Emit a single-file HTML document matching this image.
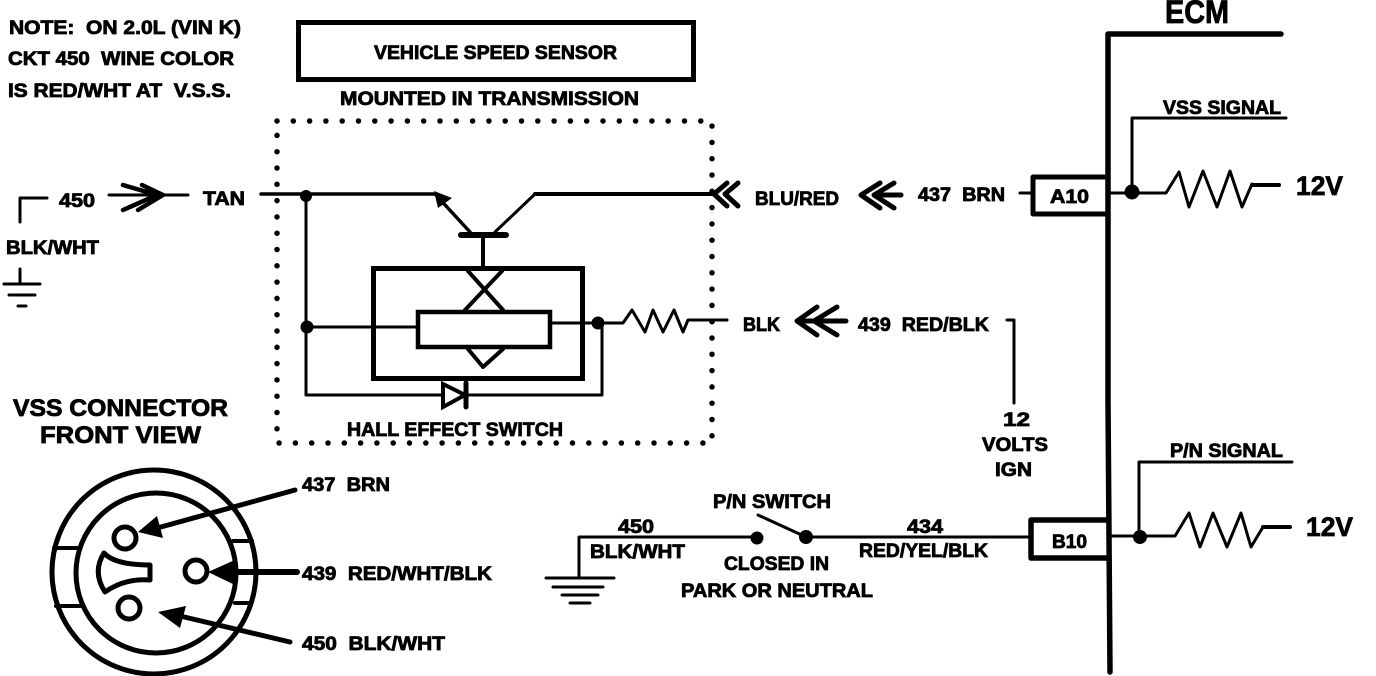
<!DOCTYPE html>
<html><head><meta charset="utf-8"><style>
html,body{margin:0;padding:0;background:#fff;width:1376px;height:676px;overflow:hidden}
svg{display:block}
text{font-family:"Liberation Sans",sans-serif;font-weight:bold;fill:#000;stroke:#000;stroke-width:.8;white-space:pre}
.l{fill:none;stroke:#000;stroke-linejoin:round;stroke-linecap:round}
</style></head><body>
<svg width="1376" height="676" viewBox="0 0 1376 676" xmlns="http://www.w3.org/2000/svg">
<rect width="1376" height="676" fill="#fff"/>

<!-- notes -->
<g font-size="19">
<text x="9" y="34" textLength="232" lengthAdjust="spacingAndGlyphs">NOTE:  ON 2.0L (VIN K)</text>
<text x="8" y="65" textLength="226" lengthAdjust="spacingAndGlyphs">CKT 450  WINE COLOR</text>
<text x="8" y="97" textLength="223" lengthAdjust="spacingAndGlyphs">IS RED/WHT AT  V.S.S.</text>
<text x="374" y="59" textLength="243" lengthAdjust="spacingAndGlyphs">VEHICLE SPEED SENSOR</text>
<text x="340" y="105" textLength="299" lengthAdjust="spacingAndGlyphs">MOUNTED IN TRANSMISSION</text>
</g>
<rect x="298.500" y="22.500" width="395" height="57" fill="none" stroke="#000" stroke-width="5"/>

<!-- dotted box -->
<path class="l" d="M277 121H712V443H277Z" stroke-width="5.500" stroke-dasharray="0 16.300"/>

<!-- left wire -->
<path class="l" stroke-width="3" d="M20 222V198H47"/>
<path class="l" stroke-width="3" d="M109 195H188"/>
<path class="l" stroke-width="4.500" d="M123 185L157 195L123 210M142 185L163 195L138 210"/>
<g font-size="19">
<text x="59" y="207" textLength="36" lengthAdjust="spacingAndGlyphs">450</text>
<text x="203" y="205" textLength="42" lengthAdjust="spacingAndGlyphs">TAN</text>
<text x="6" y="254" textLength="93" lengthAdjust="spacingAndGlyphs">BLK/WHT</text>
</g>
<path class="l" stroke-width="3" d="M20 269V284M4 284H40M9 295H35M18 306H26"/>

<!-- sensor internals -->
<path class="l" stroke-width="3.500" d="M261 194H435L470 232"/>
<path d="M434 191L452 198L438 208Z" fill="#000"/>
<path class="l" stroke-width="3" d="M495 232L535 194"/>
<path class="l" stroke-width="4" d="M535 194H714"/>
<path class="l" stroke-width="6" d="M461 235H506"/>
<path class="l" stroke-width="4" d="M483 235V267"/>
<rect x="373.500" y="268.500" width="209" height="110" fill="none" stroke="#000" stroke-width="5"/>
<path class="l" stroke-width="4" d="M468 271L503 310M502 271L465 310M468 349L483 367L503 349"/>
<rect x="418" y="312" width="132" height="35" fill="#fff" stroke="#000" stroke-width="4.500"/>
<path class="l" stroke-width="3" d="M306 196V395H442M465 395H602V323M307 327H416M551 323H623L632 310L645 332L653 310L663 332L674 310L683 332L688 320H727"/>
<circle cx="306" cy="196" r="6"/><circle cx="307" cy="327" r="6.500"/><circle cx="598" cy="323" r="6.500"/>
<path d="M443 384L443 407L465 395Z" fill="#fff" stroke="#000" stroke-width="4"/>
<path class="l" stroke-width="5" d="M466 383V407" stroke-linecap="butt"/>
<text x="347" y="436" font-size="19" textLength="216" lengthAdjust="spacingAndGlyphs">HALL EFFECT SWITCH</text>

<!-- right labels -->
<path class="l" stroke-width="5" d="M727 183L714 194L727 206M738 183L725 194L738 206"/>
<path class="l" stroke-width="5" d="M880 183L861 195L880 208M894 183L874 195L894 208M874 195H901"/>
<path class="l" stroke-width="5" d="M817 307L797 321L817 335M837 307L814 321L837 335M797 321H846"/>
<path class="l" stroke-width="3" d="M1020 193H1031M1007 320H1014V403"/>
<g font-size="19">
<text x="755" y="205" textLength="84" lengthAdjust="spacingAndGlyphs">BLU/RED</text>
<text x="918" y="201" textLength="87" lengthAdjust="spacingAndGlyphs">437  BRN</text>
<text x="743" y="331" textLength="37" lengthAdjust="spacingAndGlyphs">BLK</text>
<text x="858" y="331" textLength="131" lengthAdjust="spacingAndGlyphs">439  RED/BLK</text>
<text x="1003" y="426" textLength="27" lengthAdjust="spacingAndGlyphs">12</text>
<text x="982" y="451" textLength="66" lengthAdjust="spacingAndGlyphs">VOLTS</text>
<text x="995" y="476" textLength="37" lengthAdjust="spacingAndGlyphs">IGN</text>
</g>

<!-- ECM -->
<text x="1165" y="23" font-size="32" textLength="64" lengthAdjust="spacingAndGlyphs">ECM</text>
<path class="l" stroke-width="5.500" d="M1281 34H1108V178" stroke-linecap="butt"/>
<path class="l" stroke-width="5.500" d="M1108 178V400L1110 672" stroke-linecap="butt"/>
<path class="l" stroke-width="5" stroke-linecap="butt" d="M1108 177H1033V214H1108"/>
<text x="1050" y="203" font-size="19" textLength="39" lengthAdjust="spacingAndGlyphs">A10</text>
<path class="l" stroke-width="3" d="M1286 118H1132V193M1110 193H1166L1179 172L1189 207L1203 171L1217 207L1230 171L1242 207L1252 184"/>
<path class="l" stroke-width="4" d="M1252 185H1279"/>
<circle cx="1132" cy="192" r="7.500"/>
<text x="1163" y="114" font-size="19" textLength="118" lengthAdjust="spacingAndGlyphs">VSS SIGNAL</text>
<text x="1296" y="195" font-size="27" textLength="47" lengthAdjust="spacingAndGlyphs">12V</text>

<path class="l" stroke-width="5.500" stroke-linecap="butt" d="M1108 520H1031V558H1108"/>
<text x="1052" y="548" font-size="19" textLength="35" lengthAdjust="spacingAndGlyphs">B10</text>
<path class="l" stroke-width="3" d="M1292 462H1139V537M1112 536H1175L1189 513L1200 547L1213 513L1227 547L1241 513L1251 547L1263 527"/>
<path class="l" stroke-width="4" d="M1263 527H1290"/>
<circle cx="1140" cy="537" r="7"/>
<text x="1170" y="457" font-size="19" textLength="113" lengthAdjust="spacingAndGlyphs">P/N SIGNAL</text>
<text x="1306" y="536" font-size="27" textLength="47" lengthAdjust="spacingAndGlyphs">12V</text>

<!-- P/N switch -->
<path class="l" stroke-width="3" d="M757 537H579V578M758 515L806 537M806 537H1030"/>
<circle cx="757" cy="538" r="6.500"/><circle cx="806" cy="537" r="7"/>
<path class="l" stroke-width="3" stroke-linecap="butt" d="M546 578H614M553 587H603M562 595H598M570 603H590"/>
<g font-size="19">
<text x="618" y="533" textLength="36" lengthAdjust="spacingAndGlyphs">450</text>
<text x="590" y="558" textLength="95" lengthAdjust="spacingAndGlyphs">BLK/WHT</text>
<text x="713" y="508" textLength="118" lengthAdjust="spacingAndGlyphs">P/N SWITCH</text>
<text x="724" y="570" textLength="105" lengthAdjust="spacingAndGlyphs">CLOSED IN</text>
<text x="681" y="597" textLength="192" lengthAdjust="spacingAndGlyphs">PARK OR NEUTRAL</text>
<text x="907" y="533" textLength="36" lengthAdjust="spacingAndGlyphs">434</text>
<text x="859" y="557" textLength="129" lengthAdjust="spacingAndGlyphs">RED/YEL/BLK</text>
</g>

<!-- connector -->
<text x="13" y="416" font-size="24" textLength="215" lengthAdjust="spacingAndGlyphs">VSS CONNECTOR</text>
<text x="40" y="443" font-size="24" textLength="161" lengthAdjust="spacingAndGlyphs">FRONT VIEW</text>
<circle cx="154" cy="572" r="102" fill="none" stroke="#000" stroke-width="5"/>
<circle cx="156" cy="573" r="80" fill="none" stroke="#000" stroke-width="5"/>
<path class="l" stroke-width="4" stroke-linecap="butt" d="M54 548H77M56 606H80M233 541H252M235 603H250"/>
<circle cx="125" cy="538" r="11" fill="none" stroke="#000" stroke-width="5"/>
<circle cx="196" cy="571" r="11" fill="none" stroke="#000" stroke-width="5"/>
<circle cx="129" cy="608" r="11" fill="none" stroke="#000" stroke-width="5"/>
<path class="l" stroke-width="5" d="M104 553Q115 565 150 565V580Q125 578 105 592Q92 572 104 553Z"/>
<path class="l" stroke-width="5" stroke-linecap="butt" d="M295 490L150 530"/>
<path d="M138 532L157 516L163 538Z"/>
<path class="l" stroke-width="6" stroke-linecap="butt" d="M297 572H230"/>
<path d="M208 572L237 559L237 586Z"/>
<path class="l" stroke-width="5" stroke-linecap="butt" d="M290 642L180 616"/>
<path d="M158 612L186 606L180 628Z"/>
<g font-size="19">
<text x="302" y="491" textLength="88" lengthAdjust="spacingAndGlyphs">437  BRN</text>
<text x="302" y="580" textLength="190" lengthAdjust="spacingAndGlyphs">439  RED/WHT/BLK</text>
<text x="302" y="650" textLength="143" lengthAdjust="spacingAndGlyphs">450  BLK/WHT</text>
</g>
</svg>
</body></html>
